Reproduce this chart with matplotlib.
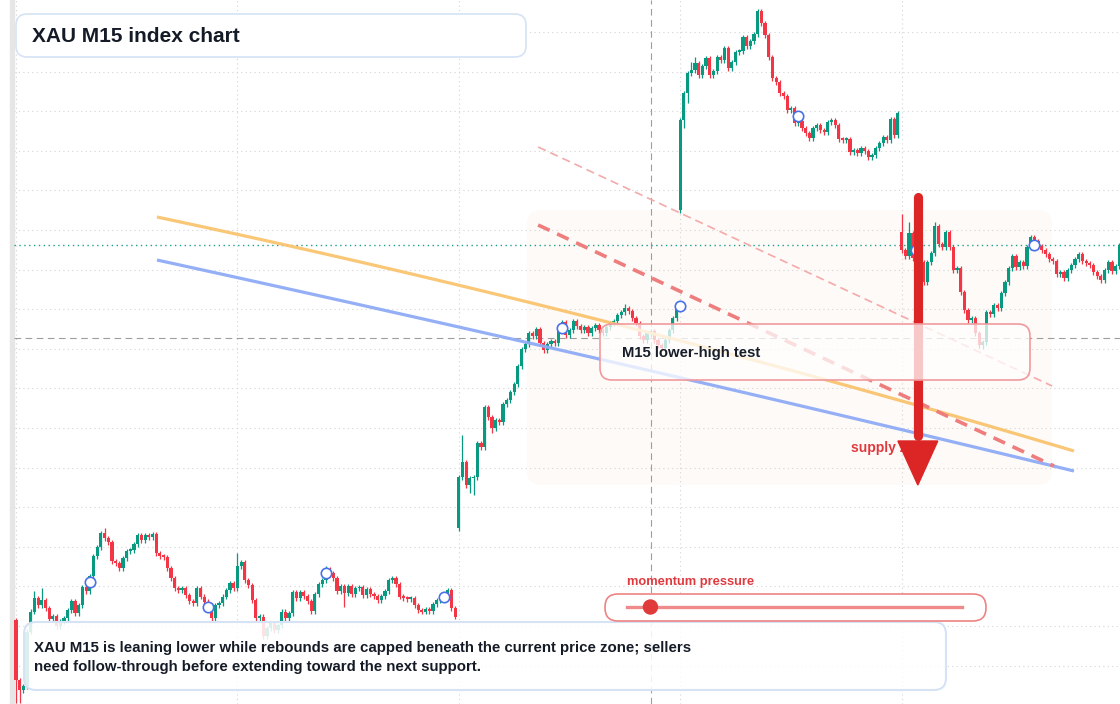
import numpy as np
import matplotlib
matplotlib.use("Agg")
import matplotlib.pyplot as plt
from matplotlib.patches import FancyBboxPatch, Polygon, Circle, Rectangle
from matplotlib.lines import Line2D
from matplotlib.transforms import IdentityTransform

plt.rcParams['font.family'] = ['Liberation Sans', 'DejaVu Sans']

# closes per session block (XAU, M15)
seg1 = [2332.0, 2331.0, 2331.4, 2336.8, 2338.8, 2340.2, 2339.5, 2340.0, 2339.2, 2338.1,
        2338.4, 2337.4, 2337.8, 2338.2, 2339.0, 2339.9, 2338.7, 2339.5, 2341.3, 2340.9,
        2342.4, 2344.4, 2345.3, 2346.7, 2346.2, 2345.8, 2343.9, 2343.7, 2343.2, 2344.2,
        2344.9, 2345.0, 2345.6, 2346.5, 2346.0, 2346.5, 2346.3, 2346.6, 2344.7, 2344.4,
        2344.3, 2343.2, 2342.2, 2341.2, 2341.0, 2341.2, 2340.5, 2339.9, 2339.7, 2341.2,
        2340.3, 2339.8, 2339.5, 2338.2, 2339.5, 2339.7, 2340.3, 2341.0, 2341.7, 2341.2,
        2343.4, 2343.8, 2342.0, 2341.5, 2340.0, 2338.2, 2338.3, 2336.4, 2337.2, 2337.7,
        2337.0, 2337.5, 2338.8, 2338.2, 2338.7, 2340.8, 2340.2, 2340.8, 2340.4, 2339.9,
        2338.9, 2340.6, 2341.6, 2342.0, 2343.1, 2342.7, 2342.2, 2340.9, 2341.4, 2340.7,
        2341.4, 2340.6, 2341.2, 2341.3, 2340.5, 2341.1, 2340.6, 2340.4, 2340.0, 2340.4,
        2340.9, 2342.0, 2342.2, 2341.6, 2340.3, 2340.2, 2340.1, 2340.2, 2339.5, 2339.0,
        2338.8, 2339.1, 2338.9, 2339.6, 2340.0, 2340.2, 2340.4, 2341.0, 2339.2, 2338.3]
seg2 = [2352.3, 2353.8, 2351.5, 2352.2, 2352.3, 2355.7, 2355.3, 2359.3, 2358.3, 2357.2,
        2358.0, 2357.8, 2359.6, 2360.0, 2360.8, 2361.6, 2363.4, 2365.1, 2365.6, 2366.7,
        2366.4, 2367.1, 2365.7, 2365.0, 2365.6, 2365.9, 2365.7, 2367.2, 2367.8, 2366.5,
        2367.0, 2367.9, 2367.4, 2367.0, 2367.3, 2366.7, 2367.2, 2367.5, 2367.0, 2366.7,
        2367.3, 2367.7, 2367.9, 2368.5, 2368.8, 2369.2, 2368.9, 2368.2, 2367.7, 2366.4,
        2366.0, 2366.7, 2366.9, 2366.0, 2365.5, 2365.2, 2366.0, 2367.0, 2368.2, 2369.1]
seg3 = [2388.0, 2390.7, 2392.7, 2393.0, 2393.7, 2392.5, 2393.4, 2394.2, 2392.5, 2392.9,
        2394.3, 2394.0, 2395.2, 2393.2, 2393.8, 2394.8, 2394.9, 2396.3, 2395.4, 2395.9,
        2396.6, 2398.9, 2397.7, 2396.5, 2394.3, 2392.2, 2391.8, 2390.7, 2390.4, 2389.0,
        2389.2, 2387.7, 2387.9, 2387.2, 2386.7, 2386.2, 2387.2, 2387.5, 2387.0, 2386.8,
        2387.8, 2388.0, 2387.5, 2386.1, 2386.0, 2386.1, 2384.8, 2385.0, 2384.7, 2385.2,
        2384.9, 2384.3, 2384.5, 2385.2, 2385.7, 2386.3, 2386.0, 2388.1, 2386.5, 2388.7]
seg4 = [2375.0, 2374.4, 2376.7, 2374.2, 2375.0, 2373.8, 2371.8, 2373.8, 2374.7, 2377.4,
        2375.6, 2375.3, 2376.8, 2375.3, 2373.0, 2373.2, 2370.8, 2369.0, 2368.0, 2368.2,
        2366.7, 2365.5, 2365.8, 2368.8, 2368.6, 2369.5, 2369.2, 2370.7, 2371.8, 2373.2,
        2374.4, 2373.3, 2373.8, 2373.4, 2375.3, 2376.3, 2375.9, 2375.4, 2375.0, 2374.6,
        2374.1, 2373.9, 2372.6, 2372.8, 2372.2, 2373.0, 2373.5, 2374.1, 2374.6, 2373.9,
        2373.7, 2373.5, 2372.8, 2372.4, 2372.0, 2373.0, 2373.8, 2372.9, 2373.4, 2375.5]
closes = seg1 + seg2 + seg3 + seg4

# opens where the bar gaps away from the previous close
gap_opens = {0: 2338.0, 120: 2347.2, 180: 2379.0, 240: 2376.8}
wick_highs = {5: 2340.9, 7: 2341.2, 24: 2347.2, 60: 2344.7, 84: 2343.4, 121: 2356.5,
              165: 2369.6, 183: 2393.8, 184: 2394.3, 240: 2378.6, 242: 2377.8, 249: 2377.8}
wick_lows = {0: 2329.7, 1: 2329.7, 89: 2339.3, 121: 2352.0, 123: 2350.7, 124: 2350.5,
             129: 2356.7, 181: 2387.2, 182: 2389.7, 262: 2365.1}

marker_idx = [20, 52, 84, 116, 148, 180, 212, 244, 276]
marker_px = [2341.8, 2339.3, 2342.7, 2340.3, 2367.2, 2369.4, 2388.4, 2375.0, 2375.5]

# trend curves (bar index, price)
orange_idx = [38.2, 147.4, 286.7]
orange_px = [2378.3, 2369.0, 2354.9]
blue_idx = [38.2, 147.4, 286.7]
blue_px = [2374.0, 2365.0, 2352.9]
upper_dash = ([141.5, 280.8], [2385.3, 2361.4])
lower_dash = ([141.5, 281.3], [2377.5, 2353.4])

cross_idx, cross_px = 172, 2366.2
arrow_idx, arrow_top, arrow_base, arrow_tip = 244.4, 2380.3, 2355.9, 2351.5
momentum = 0.07

GREEN, RED = '#089981', '#f23645'
W, H = 1120, 704

fig = plt.figure(figsize=(W / 100, H / 100), dpi=100)
ax = fig.add_axes([0, 0, 1, 1])
ax.axis('off')
PX = IdentityTransform()


def pbox(x0, y0, x1, y1, r, fc, ec, lw, z):
    ax.add_patch(FancyBboxPatch((x0, H - y1), x1 - x0, y1 - y0,
                                boxstyle=f"round,pad=0,rounding_size={r}", transform=PX,
                                fc=fc, ec=ec, lw=lw, zorder=z))


def ptext(x, y, s, size, color, z):
    ax.text(x, H - y, s, transform=PX, fontsize=size, color=color, fontweight='bold',
            va='center', ha='left', zorder=z)


# grid
for g in np.arange(2396.8, 2330, -3.96):
    ax.axhline(g, xmin=14 / W, color='#d4d4d4', lw=0.8, ls=(0, (1, 3)), zorder=0.5)
for g in [0, 60, 120, 180, 240]:
    ax.axvline(g, color='#d4d4d4', lw=0.8, ls=(0, (1, 3)), zorder=0.5)
ax.add_patch(Rectangle((10, 0), 4, H, transform=PX, color='#e6e6e6', zorder=0.6))

# supply zone
pbox(527, 210, 1052, 485, 14, '#fefaf7', 'none', 0, 0.3)

# crosshair and last price
ax.axvline(cross_idx, color='#9e9e9e', lw=0.8, ls=(0, (6, 4)), zorder=1)
ax.axhline(cross_px, xmin=14 / W, color='#9e9e9e', lw=0.8, ls=(0, (6, 4)), zorder=1)
ax.axhline(closes[-1], xmin=14 / W, color='#1aa08a', lw=1.0, ls=(0, (1, 2.5)), zorder=1)

# candles
n = len(closes)
idx = np.arange(n)
opens = np.array([gap_opens.get(i, closes[i - 1] if i else closes[0]) for i in range(n)])
cl = np.array(closes)
top = np.maximum(opens, cl)
bot = np.minimum(opens, cl)
highs = np.array([max(wick_highs.get(i, top[i] + 0.25), top[i]) for i in range(n)])
lows = np.array([min(wick_lows.get(i, bot[i] - 0.25), bot[i]) for i in range(n)])
cols = [GREEN if c >= o else RED for o, c in zip(opens, cl)]
ax.vlines(idx, lows, highs, colors=cols, lw=0.9, zorder=3)
ax.bar(idx, np.maximum(top - bot, 0.15), bottom=bot, width=0.86, color=cols, lw=0,
       antialiased=False, zorder=3.1)

ax.plot(marker_idx, marker_px, 'o', ms=7.5, mfc='white', mec='#4a72e8', mew=1.2, zorder=3.5)

# trend curves
for xs, ys, c in [(orange_idx, orange_px, '#f9c46f'), (blue_idx, blue_px, '#8eabf5')]:
    k = np.polyfit(xs, ys, 2)
    tt = np.linspace(xs[0], xs[-1], 120)
    ax.plot(tt, np.polyval(k, tt), color=c, lw=2.3, alpha=0.95, zorder=4, solid_capstyle='butt')
ax.plot(*upper_dash, color='#f4aaaa', lw=1.2, ls=(0, (5, 3)), zorder=4)
ax.plot(*lower_dash, color='#ee7d7d', lw=2.6, ls=(0, (3.5, 2.3)), zorder=4)

ptext(851, 448, 'supply zone', 10, '#e0393e', 4.8)

# arrow
ax.plot([arrow_idx, arrow_idx], [arrow_top, arrow_base + 0.5], color='#dc2626', lw=6.6,
        solid_capstyle='round', zorder=5)
ax.add_patch(Polygon([[arrow_idx - 5.4, arrow_base], [arrow_idx + 5.4, arrow_base],
                      [arrow_idx, arrow_tip]], closed=True, color='#dc2626', zorder=5))

# callout
pbox(600, 324, 1030, 380, 12, (1, 1, 1, 0.75), '#f09a9c', 1.2, 6)
ptext(622, 353, 'M15 lower-high test', 10.7, '#161c28', 7)

# title
pbox(16, 14, 526, 57, 11, 'white', '#d6e3f5', 1.2, 8)
ptext(32, 36, 'XAU M15 index chart', 15, '#151b26', 9)

# note box
pbox(24, 622, 946, 690, 12, (1, 1, 1, 0.86), '#d6e3f5', 1.5, 8)
ptext(34, 648, 'XAU M15 is leaning lower while rebounds are capped beneath the current price zone; sellers',
      10.8, '#151b26', 9)
ptext(34, 667, 'need follow-through before extending toward the next support.', 10.8, '#151b26', 9)

# momentum gauge
ptext(627, 582, 'momentum pressure', 9.3, '#e0393e', 9)
pbox(605, 594, 986, 621, 13, 'white', '#ee8383', 1.2, 8)
ax.add_line(Line2D([627, 962], [H - 607, H - 607], transform=PX, color='#f08a8a', lw=2.4, zorder=9))
ax.add_patch(Circle((627 + momentum * 335, H - 607), 7, transform=PX, color='#e03a3a', zorder=10))

ax.set_xlim(-16 / 3.69, (W - 16) / 3.69)
ax.set_ylim(2400 - H / 10, 2400)

fig.savefig('out.png', dpi=100)
